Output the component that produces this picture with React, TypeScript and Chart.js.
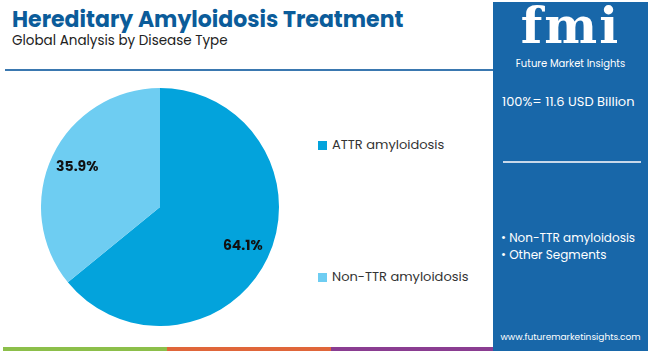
import React, { useEffect, useRef } from "react";
import { Chart, registerables } from "chart.js";

Chart.register(...registerables);

const categories = ["ATTR amyloidosis", "Non-TTR amyloidosis"];
const shares = [64.1, 35.9];
const sliceColors = ["#03a3dc", "#6ecdf2"];
const panelSegments = ["Non-TTR amyloidosis", "Other Segments"];
const totalLabel = "100%= 11.6 USD Billion";
const title = "Hereditary Amyloidosis Treatment";
const subtitle = "Global Analysis by Disease Type";

const FONT = "Poppins, 'Open Sans', 'Noto Sans', sans-serif";

const labelPlugin = {
  id: "sliceLabels",
  afterDatasetsDraw(chart: any) {
    const ctx = chart.ctx;
    const meta = chart.getDatasetMeta(0);
    ctx.save();
    ctx.font = `bold 14px ${FONT}`;
    ctx.fillStyle = "#111";
    ctx.textAlign = "center";
    ctx.textBaseline = "middle";
    meta.data.forEach((arc: any, i: number) => {
      const p = arc.getProps(["x", "y", "startAngle", "endAngle", "outerRadius"], true);
      const mid = (p.startAngle + p.endAngle) / 2;
      const r = p.outerRadius * 0.77;
      ctx.fillText(shares[i].toFixed(1) + "%", p.x + Math.cos(mid) * r, p.y + Math.sin(mid) * r);
    });
    ctx.restore();
  },
};

export default function App() {
  const ref = useRef<HTMLCanvasElement>(null);
  useEffect(() => {
    document.body.style.margin = "0";
    const chart = new Chart(ref.current!, {
      type: "pie",
      data: {
        labels: categories,
        datasets: [{ data: shares, backgroundColor: sliceColors, borderWidth: 0 }],
      },
      options: {
        animation: false,
        responsive: false,
        maintainAspectRatio: false,
        layout: { padding: 0 },
        plugins: { legend: { display: false }, tooltip: { enabled: false } },
      },
      plugins: [labelPlugin],
    });
    return () => chart.destroy();
  }, []);

  const legendItem = (i: number, top: number) => (
    <div style={{ position: "absolute", left: 318, top, display: "flex", alignItems: "center", fontFamily: FONT, fontSize: 13, color: "#333", whiteSpace: "nowrap" }}>
      <span style={{ display: "inline-block", width: 9, height: 9, background: sliceColors[i], marginRight: 5 }} />
      {categories[i]}
    </div>
  );

  return (
    <div style={{ position: "fixed", left: 0, top: 0, width: 650, height: 352, background: "#fff", overflow: "hidden", fontFamily: FONT }}>
      <div style={{ position: "absolute", left: 12, top: 3, fontSize: 22, fontWeight: 700, color: "#0b5c9a", whiteSpace: "nowrap" }}>{title}</div>
      <div style={{ position: "absolute", left: 12, top: 31, fontSize: 13.5, color: "#222", whiteSpace: "nowrap" }}>{subtitle}</div>
      <div style={{ position: "absolute", left: 5, top: 69, width: 488, height: 2, background: "#3a78b0" }} />
      <canvas ref={ref} width={238} height={238} style={{ position: "absolute", left: 41, top: 88, width: 238, height: 238 }} />
      {legendItem(0, 135)}
      {legendItem(1, 267)}
      <div style={{ position: "absolute", left: 3, top: 347, width: 164, height: 4, background: "#8cbf4a" }} />
      <div style={{ position: "absolute", left: 167, top: 347, width: 164, height: 4, background: "#e0663a" }} />
      <div style={{ position: "absolute", left: 331, top: 347, width: 164, height: 4, background: "#8a3d91" }} />
      <div style={{ position: "absolute", left: 493, top: 2, width: 155, height: 349, background: "#1867a9", color: "#fff" }}>
        <div style={{ position: "absolute", left: 0, width: 155, top: -6, textAlign: "center", fontFamily: "'DejaVu Serif', serif", fontWeight: 700, fontSize: 50, letterSpacing: 2 }}>fmi</div>
        <div style={{ position: "absolute", left: 0, width: 155, top: 54, textAlign: "center", fontSize: 10 }}>Future Market Insights</div>
        <div style={{ position: "absolute", left: 9, top: 90, fontSize: 13, whiteSpace: "nowrap" }}>{totalLabel}</div>
        <div style={{ position: "absolute", left: 10, top: 159, width: 138, height: 2, background: "#c8d8ea" }} />
        <div style={{ position: "absolute", left: 8, top: 227, fontSize: 12, lineHeight: "17px", whiteSpace: "nowrap" }}>
          {panelSegments.map((s) => (<div key={s}>{"\u2022 " + s}</div>))}
        </div>
        <div style={{ position: "absolute", left: 0, width: 155, top: 329, textAlign: "center", fontSize: 9, whiteSpace: "nowrap" }}>www.futuremarketinsights.com</div>
      </div>
    </div>
  );
}
